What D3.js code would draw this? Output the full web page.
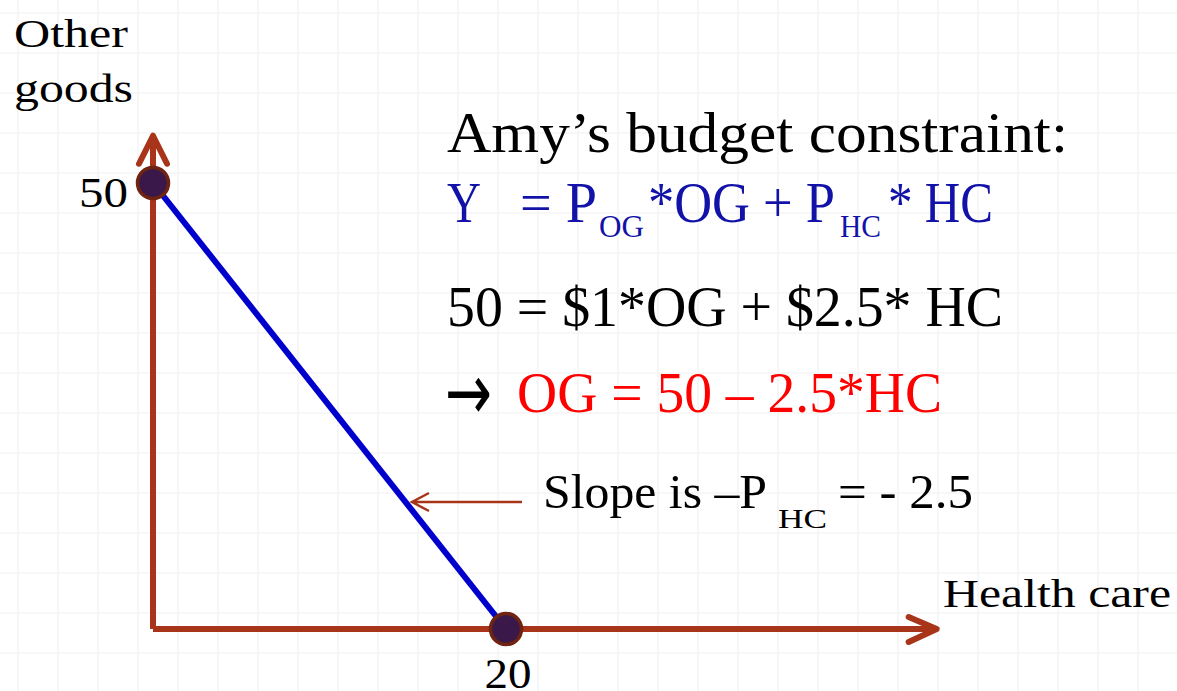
<!DOCTYPE html>
<html>
<head>
<meta charset="utf-8">
<script src="https://cdn.jsdelivr.net/npm/d3@7"></script>
<style>
  html, body { margin: 0; padding: 0; background: #fff; }
  svg { display: block; }
</style>
</head>
<body>
<div id="chart"></div>
<script>
// budget line end points (health care, other goods)
const budgetPoints = [{ hc: 0, og: 50 }, { hc: 20, og: 0 }];
const xTicks = [20];
const yTicks = [50];
const xAxisEnd = 44.4;
const yAxisEnd = 55.3;

const W = 1177, H = 691;
const axisColor = '#a8341a';
const serif = '"Liberation Serif", "Times New Roman", serif';

const svg = d3.select('#chart').append('svg')
  .attr('width', W)
  .attr('height', H);

// faint background grid
const grid = svg.append('g').attr('stroke', '#f5f5f5').attr('stroke-width', 1.5);
grid.selectAll('line.v')
  .data(d3.range(18, W, 40))
  .join('line')
  .attr('x1', d => d).attr('x2', d => d)
  .attr('y1', 0).attr('y2', H);
grid.selectAll('line.h')
  .data(d3.range(13, H, 40))
  .join('line')
  .attr('y1', d => d).attr('y2', d => d)
  .attr('x1', 0).attr('x2', W);

const x = d3.scaleLinear().domain([0, 20]).range([153, 506]);
const y = d3.scaleLinear().domain([0, 50]).range([629, 183]);

// axes with open arrow heads
const axes = svg.append('g')
  .attr('stroke', axisColor)
  .attr('fill', 'none')
  .attr('stroke-width', 6);

axes.append('path')
  .attr('d', `M${x(0)},${y(0)} L${x(0)},${y(yAxisEnd)}`);
axes.append('path')
  .attr('d', `M${x(0)},${y(0)} L${x(xAxisEnd)},${y(0)}`);

axes.append('path')
  .attr('stroke-linecap', 'round')
  .attr('stroke-linejoin', 'round')
  .attr('d', `M${x(0) - 14},${y(yAxisEnd) + 28} L${x(0)},${y(yAxisEnd)} L${x(0) + 14},${y(yAxisEnd) + 28}`);
axes.append('path')
  .attr('stroke-linecap', 'round')
  .attr('stroke-linejoin', 'round')
  .attr('d', `M${x(xAxisEnd) - 28},${y(0) - 12} L${x(xAxisEnd)},${y(0)} L${x(xAxisEnd) - 28},${y(0) + 13}`);

// budget line
svg.append('path')
  .datum(budgetPoints)
  .attr('fill', 'none')
  .attr('stroke', '#0000cc')
  .attr('stroke-width', 6)
  .attr('d', d3.line().x(d => x(d.hc)).y(d => y(d.og)));

svg.selectAll('circle.pt')
  .data(budgetPoints)
  .join('circle')
  .attr('cx', d => x(d.hc))
  .attr('cy', d => y(d.og))
  .attr('r', 15.5)
  .attr('fill', '#3a184a')
  .attr('stroke', '#6e2410')
  .attr('stroke-width', 3.5);

// helper for text pieces fitted to measured widths
function label(txt, x0, x1, base, size, color, font) {
  return svg.append('text')
    .attr('x', x0)
    .attr('y', base)
    .attr('font-family', font || serif)
    .attr('font-size', size)
    .attr('fill', color || '#000')
    .attr('textLength', x1 - x0)
    .attr('lengthAdjust', 'spacingAndGlyphs')
    .text(txt);
}

// tick labels
yTicks.forEach(v => {
  svg.append('text')
    .attr('x', x(0) - 25).attr('y', y(v) + 24)
    .attr('text-anchor', 'end')
    .attr('font-family', serif).attr('font-size', 42)
    .attr('textLength', 49).attr('lengthAdjust', 'spacingAndGlyphs')
    .text(v);
});
xTicks.forEach(v => {
  svg.append('text')
    .attr('x', x(v) + 2).attr('y', 688)
    .attr('text-anchor', 'middle')
    .attr('font-family', serif).attr('font-size', 42)
    .attr('textLength', 47).attr('lengthAdjust', 'spacingAndGlyphs')
    .text(v);
});

// axis titles
label('Other', 14, 128, 47, 40);
label('goods', 14, 133, 102, 40);
label('Health care', 943, 1171, 607, 40);

// equations
const blue = '#1212a8';
label('Amy’s budget constraint:', 447, 1068, 152, 56);

label('Y', 447, 481, 222, 56, blue);
label('= P', 520, 597, 222, 56, blue);
label('OG', 599, 644, 237, 31, blue);
label('*OG + P', 648, 835, 222, 56, blue);
label('HC', 840, 881, 237, 31, blue);
label('* HC', 888, 993, 222, 56, blue);

label('50 = $1*OG + $2.5* HC', 447, 1003, 326, 56);

label('→', 445, 492, 420, 80, '#000', '"DejaVu Sans", sans-serif');
label('OG = 50 – 2.5*HC', 517, 942, 412, 56, '#ff0000');

label('Slope is –P', 543, 767, 508, 48);
label('HC', 778, 827, 528, 28);
label('= - 2.5', 838, 973, 508, 48);

// pointer arrow to the slope
svg.append('path')
  .attr('fill', 'none')
  .attr('stroke', axisColor)
  .attr('stroke-width', 2.5)
  .attr('d', 'M522,502 L412,502 M429,493 L412,502 L429,511');
</script>
</body>
</html>
